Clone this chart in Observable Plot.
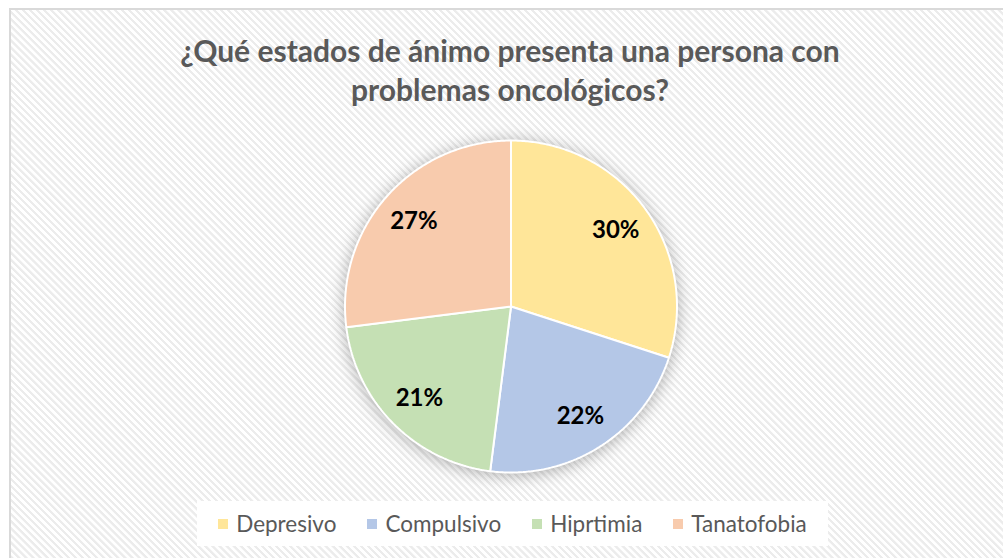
<!DOCTYPE html>
<html>
<head>
<meta charset="utf-8">
<script src="https://cdn.jsdelivr.net/npm/d3@7"></script>
<script src="https://cdn.jsdelivr.net/npm/@observablehq/plot@0.6"></script>
<style>
  html, body { margin: 0; padding: 0; background: #ffffff; }
  #page { position: relative; width: 1003px; height: 558px; overflow: hidden; background: #ffffff; }
  #frame {
    position: absolute; left: 9px; top: 8px; width: 1010px; height: 570px;
    box-sizing: border-box; border: 2px solid #d9d9d9;
    background: repeating-linear-gradient(45deg, #ffffff 0px, #ffffff 2.3px, #ececec 2.7px, #ececec 4.6px, #ffffff 5px);
  }
  #title {
    position: absolute; left: 0; width: 1020px; top: 31px; text-align: center;
    font-family: Lato, "Open Sans", sans-serif; font-weight: 700; font-size: 30px;
    line-height: 39px; color: #595959;
  }
  #chart { position: absolute; left: 0; top: 120px; }
  #chart svg g[aria-label="line"] { filter: drop-shadow(0px 2px 8px rgba(0,0,0,0.3)); }
  #legend {
    position: absolute; left: 197px; top: 501px; width: 631px; height: 45px;
    background: #ffffff; display: flex; justify-content: center; align-items: center;
    font-family: Lato, "Open Sans", sans-serif; font-size: 22.5px; color: #595959;
  }
  .item { display: flex; align-items: center; margin-right: 31px; }
  .item:last-child { margin-right: 0; }
  .sw { width: 10px; height: 10px; margin-right: 8px; }
</style>
</head>
<body>
<div id="page">
  <div id="frame"></div>
  <div id="title">¿Qué estados de ánimo presenta una persona con<br>problemas oncológicos?</div>
  <div id="chart"></div>
  <div id="legend"></div>
</div>
<script>
const categories = ["Depresivo", "Compulsivo", "Hiprtimia", "Tanatofobia"];
const values = [30, 22, 21, 27];
const colors = ["#FFE699", "#B4C7E7", "#C5E0B4", "#F8CBAD"];

const arcs = d3.pie().sort(null)(values);
const total = d3.sum(values);

// slice outlines in unit-circle coordinates (angle clockwise from 12 o'clock)
const slicePts = [];
arcs.forEach((a, i) => {
  const cat = categories[i];
  slicePts.push({cat, x: 0, y: 0});
  const n = Math.max(2, Math.ceil((a.endAngle - a.startAngle) / 0.01));
  for (let k = 0; k <= n; k++) {
    const t = a.startAngle + (a.endAngle - a.startAngle) * k / n;
    slicePts.push({cat, x: Math.sin(t), y: Math.cos(t)});
  }
  slicePts.push({cat, x: 0, y: 0});
});

const labelR = 0.78;
const labels = arcs.map((a, i) => {
  const m = (a.startAngle + a.endAngle) / 2;
  return {cat: categories[i], x: labelR * Math.sin(m), y: labelR * Math.cos(m),
          text: Math.round(values[i] / total * 100) + "%"};
});

const chart = Plot.plot({
  width: 1003,
  height: 380,
  style: {background: "transparent", overflow: "visible"},
  x: {domain: [-1, 1], range: [344.5, 676.5], axis: null},
  y: {domain: [-1, 1], range: [352, 20], axis: null},
  color: {domain: categories, range: colors},
  marks: [
    Plot.line(slicePts, {x: "x", y: "y", z: "cat", fill: "cat", stroke: "#ffffff", strokeWidth: 2, strokeLinejoin: "miter"}),
    Plot.text(labels, {x: "x", y: "y", text: "text", fill: "#000000", fontSize: 24, fontWeight: 700,
      fontFamily: "Lato, 'Open Sans', sans-serif"})
  ]
});
document.getElementById("chart").appendChild(chart);

const legend = document.getElementById("legend");
categories.forEach((c, i) => {
  const it = document.createElement("div");
  it.className = "item";
  const sw = document.createElement("div");
  sw.className = "sw";
  sw.style.background = colors[i];
  const tx = document.createElement("span");
  tx.textContent = c;
  it.appendChild(sw);
  it.appendChild(tx);
  legend.appendChild(it);
});
</script>
</body>
</html>
